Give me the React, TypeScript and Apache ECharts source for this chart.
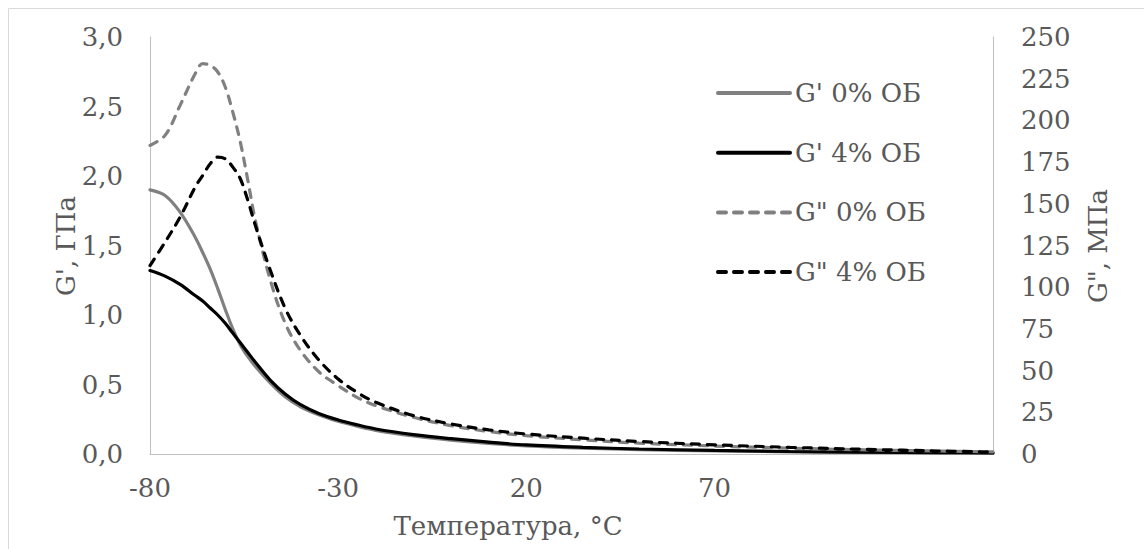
import React, { useEffect, useRef } from "react";
import * as echarts from "echarts";

const temps = [-80, -76, -72, -68, -66, -64, -62, -60, -58, -56, -54, -52, -48, -44, -40, -35, -30, -25, -20, -10, 0, 10, 20, 35, 50, 70, 90, 110, 130, 144];
const gPrime0 = [1.90, 1.86, 1.74, 1.56, 1.45, 1.33, 1.19, 1.04, 0.90, 0.785, 0.70, 0.63, 0.51, 0.41, 0.34, 0.28, 0.235, 0.2, 0.17, 0.13, 0.10, 0.076, 0.058, 0.042, 0.032, 0.022, 0.016, 0.011, 0.008, 0.006];
const gPrime4 = [1.32, 1.28, 1.22, 1.14, 1.10, 1.05, 1.00, 0.94, 0.87, 0.80, 0.73, 0.66, 0.53, 0.43, 0.355, 0.29, 0.245, 0.21, 0.18, 0.14, 0.11, 0.085, 0.065, 0.048, 0.036, 0.026, 0.018, 0.013, 0.010, 0.008];
const gDouble0 = [185, 191, 209, 228, 234, 233, 229, 220, 205, 187, 164, 140, 104, 78, 62, 49, 41, 34, 29, 22, 17, 13.5, 11, 8.5, 6.5, 4.8, 3.5, 2.5, 1.8, 1.3];
const gDouble4 = [113, 127, 142, 160, 167, 174, 178, 177, 172, 165, 152, 137, 110, 87, 71, 56, 45, 37, 31, 23, 18, 14.5, 12, 9.5, 7.5, 5.5, 4, 2.8, 1.8, 1.2];

const seriesNames = ["G' 0% ОБ", "G' 4% ОБ", 'G" 0% ОБ', 'G" 4% ОБ'];
const xLabels = [-80, -30, 20, 70];
const xTitle = "Температура, °C";
const yLeftTitle = "G', ГПа";
const yRightTitle = 'G", МПа';

const FONT = "DejaVu Serif";
const TXT = "#595959";
const AXIS = "#BFBFBF";
const FS = 26;

const pairs = (vals: number[]) => temps.map((t, i) => [t, vals[i]]);

export default function App() {
  const ref = useRef<HTMLDivElement>(null);
  useEffect(() => {
    if (!ref.current) return;
    const chart = echarts.init(ref.current, undefined, { renderer: "svg" });
    const mk = (name: string, data: number[], color: string, dashed: boolean, yAxisIndex: number) => ({
      name,
      type: "line",
      yAxisIndex,
      data: pairs(data),
      smooth: 0.35,
      symbol: "none",
      lineStyle: {
        color,
        width: 3.2,
        type: dashed ? [8, 8] : "solid",
        cap: "round",
      },
      itemStyle: { color },
    });
    chart.setOption({
      animation: false,
      textStyle: { fontFamily: FONT },
      grid: { left: 150, right: 151, top: 37, bottom: 95, containLabel: false },
      xAxis: {
        type: "value",
        min: -80,
        max: 144,
        interval: 10,
        axisLine: { show: true, onZero: false, lineStyle: { color: AXIS, width: 1 } },
        axisTick: { show: false },
        splitLine: { show: false },
        axisLabel: {
          color: TXT,
          fontSize: FS,
          fontFamily: FONT,
          margin: 21,
          showMaxLabel: false,
          formatter: (v: number) => (xLabels.includes(v) ? String(v) : ""),
        },
      },
      yAxis: [
        {
          type: "value",
          min: 0,
          max: 3,
          interval: 0.5,
          position: "left",
          axisLine: { show: true, onZero: false, lineStyle: { color: AXIS, width: 1 } },
          axisTick: { show: false },
          splitLine: { show: false },
          axisLabel: {
            color: TXT,
            fontSize: FS,
            fontFamily: FONT,
            margin: 27,
            formatter: (v: number) => v.toFixed(1).replace(".", ","),
          },
        },
        {
          type: "value",
          min: 0,
          max: 250,
          interval: 25,
          position: "right",
          axisLine: { show: true, onZero: false, lineStyle: { color: AXIS, width: 1 } },
          axisTick: { show: false },
          splitLine: { show: false },
          axisLabel: { color: TXT, fontSize: FS, fontFamily: FONT, margin: 28 },
        },
      ],
      legend: {
        orient: "vertical",
        left: 711,
        top: 73,
        itemWidth: 72,
        itemHeight: 20,
        itemGap: 29.7,
        itemStyle: { opacity: 0 },
        lineStyle: { width: 4, cap: "round" },
        textStyle: { color: TXT, fontSize: FS, fontFamily: FONT, lineHeight: 30 },
        data: seriesNames,
      },
      graphic: [
        {
          type: "rect",
          silent: true,
          shape: { x: 8.5, y: 8.5, width: 1300, height: 700 },
          style: { fill: "none", stroke: "#D9D9D9", lineWidth: 1 },
        },
        {
          type: "text",
          x: 508,
          y: 526,
          style: { text: xTitle, fill: TXT, fontSize: FS, fontFamily: FONT, align: "center", verticalAlign: "middle" },
        },
        {
          type: "text",
          x: 66,
          y: 246,
          rotation: Math.PI / 2,
          style: { text: yLeftTitle, fill: TXT, fontSize: FS, fontFamily: FONT, align: "center", verticalAlign: "middle" },
        },
        {
          type: "text",
          x: 1098,
          y: 246,
          rotation: Math.PI / 2,
          style: { text: yRightTitle, fill: TXT, fontSize: FS, fontFamily: FONT, align: "center", verticalAlign: "middle" },
        },
      ],
      series: [
        mk(seriesNames[0], gPrime0, "#808080", false, 0),
        mk(seriesNames[1], gPrime4, "#000000", false, 0),
        mk(seriesNames[2], gDouble0, "#808080", true, 1),
        mk(seriesNames[3], gDouble4, "#000000", true, 1),
      ],
    });
    return () => chart.dispose();
  }, []);
  return (
    <div
      ref={ref}
      style={{ position: "absolute", left: 0, top: 0, width: 1144, height: 549, background: "#fff" }}
    />
  );
}
